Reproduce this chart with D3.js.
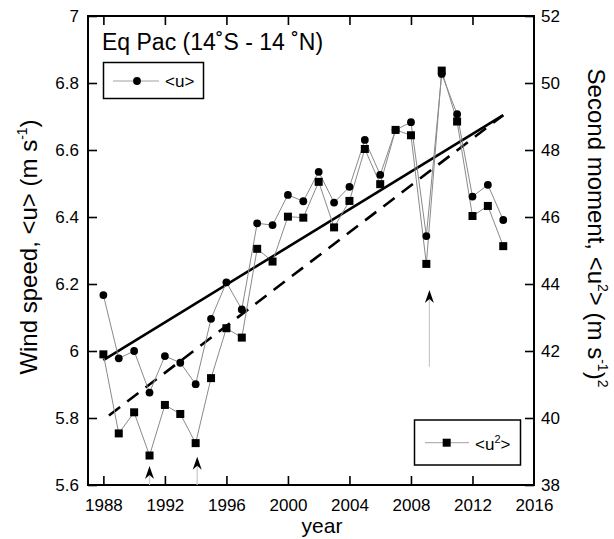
<!DOCTYPE html>
<html>
<head>
<meta charset="utf-8">
<script src="https://cdn.jsdelivr.net/npm/d3@7"></script>
<style>
  html, body { margin: 0; padding: 0; background: #fff; }
  svg { display: block; font-family: "Liberation Sans", Arial, sans-serif; }
</style>
</head>
<body>
<svg id="chart" width="614" height="539"></svg>
<script>
// Annual means over the equatorial Pacific band
const years = [1988, 1989, 1990, 1991, 1992, 1993, 1994, 1995, 1996, 1997, 1998, 1999, 2000, 2001,
               2002, 2003, 2004, 2005, 2006, 2007, 2008, 2009, 2010, 2011, 2012, 2013, 2014];
// Mean wind speed <u> (m/s), left axis
const meanSpeed = [6.167, 5.978, 6.000, 5.876, 5.985, 5.965, 5.901, 6.096, 6.205, 6.124, 6.381, 6.376, 6.466, 6.447,
                   6.535, 6.443, 6.490, 6.630, 6.526, 6.660, 6.683, 6.343, 6.827, 6.707, 6.461, 6.496, 6.391];
// Second moment <u^2> (m/s)^2, right axis
const secondMoment = [41.90, 39.54, 40.17, 38.88, 40.39, 40.12, 39.25, 41.19, 42.68, 42.40, 45.05, 44.67, 46.01, 45.98,
                      47.05, 45.69, 46.48, 48.03, 46.98, 48.60, 48.44, 44.60, 50.37, 48.85, 46.03, 46.33, 45.13];
// Linear trends: [year, value] at the ends of the record
const trendSpeed = [[1988, 5.973], [2014, 6.704]];
const trendMoment = [[1988, 39.95], [2014, 49.04]];
// Marked years: position and the left-axis values of arrow tip and tail
const arrowYears = [1991, 1994.1, 2009.2];
const arrowTips = [5.657, 5.684, 6.182];
const arrowTails = [5.6, 5.6, 5.953];

// Tick labels
const xTicks = [1988, 1992, 1996, 2000, 2004, 2008, 2012, 2016];
const leftTicks = [5.6, 5.8, 6, 6.2, 6.4, 6.6, 6.8, 7];
const leftTickLabels = ["5.6", "5.8", "6", "6.2", "6.4", "6.6", "6.8", "7"];
const rightTicks = [38, 40, 42, 44, 46, 48, 50, 52];

const svg = d3.select("#chart");
const L = 88, R = 534, T = 16, B = 485;

const x = d3.scaleLinear().domain([1987, 2016]).range([L, R]);
const yL = d3.scaleLinear().domain([5.6, 7]).range([B, T]);
const yR = d3.scaleLinear().domain([38, 52]).range([B, T]);

const tickLen = 9;
const fontTick = 17;

// Axes (all ticks point inward)
const gBottom = svg.append("g").attr("transform", `translate(0,${B})`)
  .call(d3.axisBottom(x).tickValues(xTicks).tickFormat(d3.format("d")).tickSize(-tickLen).tickPadding(14));
const gTop = svg.append("g").attr("transform", `translate(0,${T})`)
  .call(d3.axisTop(x).tickValues(xTicks.slice(0, -1)).tickFormat("").tickSize(-tickLen));
const gLeft = svg.append("g").attr("transform", `translate(${L},0)`)
  .call(d3.axisLeft(yL).tickValues(leftTicks).tickFormat((d, i) => leftTickLabels[i]).tickSize(-tickLen).tickPadding(9));
const gRight = svg.append("g").attr("transform", `translate(${R},0)`)
  .call(d3.axisRight(yR).tickValues(rightTicks).tickFormat(d3.format("d")).tickSize(-tickLen).tickPadding(7));

[gBottom, gTop, gLeft, gRight].forEach(g => {
  g.select(".domain").remove();
  g.selectAll(".tick line").attr("stroke", "#000").attr("stroke-width", 1.6);
  g.selectAll(".tick text").attr("font-size", fontTick).attr("fill", "#000")
    .attr("font-family", "'Liberation Sans', Arial, sans-serif");
});
gBottom.selectAll(".tick line").filter(d => d === 2016).remove();

// Frame
svg.append("rect").attr("x", L).attr("y", T).attr("width", R - L).attr("height", B - T)
  .attr("fill", "none").attr("stroke", "#000").attr("stroke-width", 2);

// Arrows marking particular years
const arrows = svg.append("g");
arrowYears.forEach((yr, i) => {
  const ax = x(yr), tip = yL(arrowTips[i]), tail = yL(arrowTails[i]);
  arrows.append("line").attr("x1", ax).attr("x2", ax).attr("y1", tip + 9).attr("y2", tail)
    .attr("stroke", "#c8c8c8").attr("stroke-width", 1.2);
  arrows.append("path")
    .attr("d", `M${ax},${tip} L${ax - 4.5},${tip + 13} L${ax},${tip + 9} L${ax + 4.5},${tip + 13} Z`)
    .attr("fill", "#000");
});

// Trend lines
const trendLineL = d3.line().x(d => x(d[0])).y(d => yL(d[1]));
const trendLineR = d3.line().x(d => x(d[0])).y(d => yR(d[1]));
svg.append("path").attr("d", trendLineL(trendSpeed))
  .attr("fill", "none").attr("stroke", "#000").attr("stroke-width", 2.6);
svg.append("path").attr("d", trendLineR(trendMoment))
  .attr("fill", "none").attr("stroke", "#000").attr("stroke-width", 2.6)
  .attr("stroke-dasharray", "14,9").attr("stroke-dashoffset", -7);

// Data series
const lineL = d3.line().x((d, i) => x(years[i])).y(d => yL(d));
const lineR = d3.line().x((d, i) => x(years[i])).y(d => yR(d));
svg.append("path").attr("d", lineL(meanSpeed))
  .attr("fill", "none").attr("stroke", "#8a8a8a").attr("stroke-width", 1);
svg.append("path").attr("d", lineR(secondMoment))
  .attr("fill", "none").attr("stroke", "#8a8a8a").attr("stroke-width", 1);

svg.append("g").selectAll("circle").data(meanSpeed).join("circle")
  .attr("cx", (d, i) => x(years[i])).attr("cy", d => yL(d)).attr("r", 3.9).attr("fill", "#000");
const sq = 8;
svg.append("g").selectAll("rect").data(secondMoment).join("rect")
  .attr("x", (d, i) => x(years[i]) - sq / 2).attr("y", d => yR(d) - sq / 2)
  .attr("width", sq).attr("height", sq).attr("fill", "#000");

// Title
svg.append("text").attr("x", 102).attr("y", 50).attr("font-size", 23).attr("fill", "#000")
  .text("Eq Pac (14˚S - 14 ˚N)");

// Legend for <u>
const lg1 = svg.append("g");
lg1.append("rect").attr("x", 103.5).attr("y", 62.5).attr("width", 100).attr("height", 36)
  .attr("fill", "#fff").attr("stroke", "#000").attr("stroke-width", 1.5);
lg1.append("line").attr("x1", 113).attr("x2", 159).attr("y1", 81).attr("y2", 81)
  .attr("stroke", "#a0a0a0").attr("stroke-width", 1);
lg1.append("circle").attr("cx", 137).attr("cy", 81).attr("r", 3.9).attr("fill", "#000");
lg1.append("text").attr("x", 165).attr("y", 87).attr("font-size", 17).text("<u>");

// Legend for <u^2>
const lg2 = svg.append("g");
lg2.append("rect").attr("x", 414.5).attr("y", 420).attr("width", 106).attr("height", 45)
  .attr("fill", "#fff").attr("stroke", "#000").attr("stroke-width", 1.5);
lg2.append("line").attr("x1", 425).attr("x2", 469).attr("y1", 442.7).attr("y2", 442.7)
  .attr("stroke", "#a0a0a0").attr("stroke-width", 1);
lg2.append("rect").attr("x", 446.7 - sq / 2).attr("y", 442.7 - sq / 2).attr("width", sq).attr("height", sq).attr("fill", "#000");
const t2 = lg2.append("text").attr("x", 475).attr("y", 450).attr("font-size", 17);
t2.append("tspan").text("<u");
t2.append("tspan").attr("font-size", 11).attr("dy", -7).text("2");
t2.append("tspan").attr("dy", 7).text(">");

// Axis titles
svg.append("text").attr("x", 322).attr("y", 533).attr("text-anchor", "middle").attr("font-size", 21).text("year");

const yl = svg.append("text").attr("transform", "translate(37,247) rotate(-90)")
  .attr("text-anchor", "middle").attr("font-size", 24);
yl.append("tspan").text("Wind speed, <u> (m s");
yl.append("tspan").attr("font-size", 14).attr("dy", -10).text("-1");
yl.append("tspan").attr("dy", 10).text(")");

const yr = svg.append("text").attr("transform", "translate(588,228) rotate(90)")
  .attr("text-anchor", "middle").attr("font-size", 24);
yr.append("tspan").text("Second moment, <u");
yr.append("tspan").attr("font-size", 14).attr("dy", -10).text("2");
yr.append("tspan").attr("dy", 10).text("> (m s");
yr.append("tspan").attr("font-size", 14).attr("dy", -10).text("-1");
yr.append("tspan").attr("dy", 10).text(")");
yr.append("tspan").attr("font-size", 14).attr("dy", -10).text("2");
</script>
</body>
</html>
